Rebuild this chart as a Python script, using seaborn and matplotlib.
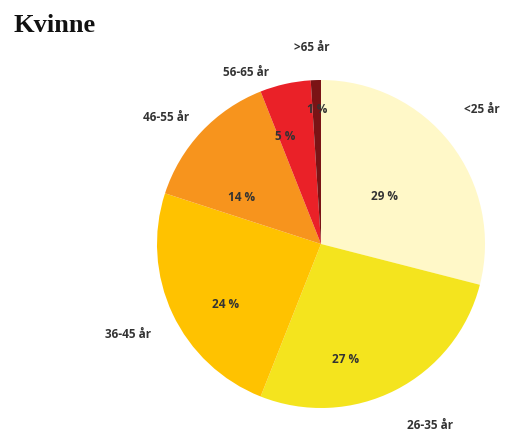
import numpy as np
import matplotlib
matplotlib.use("Agg")
import matplotlib.pyplot as plt
import seaborn as sns

categories = ["<25 år", "26-35 år", "36-45 år", "46-55 år", "56-65 år", ">65 år"]
values = [29, 27, 24, 14, 5, 1]
pct_labels = ["29 %", "27 %", "24 %", "14 %", "5 %", "1 %"]
colors = ["#FFF8C8", "#F4E41E", "#FFC200", "#F7941D", "#EA2128", "#7A1315"]

# label placement (radius fraction, angle offset in degrees)
label_dist = [1.28, 1.29, 1.30, 1.22, 1.14, 1.20]
label_off = [2, 4, 0, 4, 11, 1]
pct_dist = [0.48, 0.72, 0.69, 0.56, 0.69, 0.82]
pct_off = [-1, -15, 7, 13, 6, 0]

sns.set_theme(style="white")
plt.rcParams['font.family'] = ['Open Sans', 'DejaVu Sans']

fig = plt.figure(figsize=(5.08, 4.34), dpi=100)
ax = fig.add_axes([0, 0, 1, 1])
cx, cy, r = 321, 190, 164
wedges, _ = ax.pie(values, colors=sns.color_palette(colors), startangle=90, counterclock=False,
                   center=(cx, cy), radius=r, wedgeprops=dict(linewidth=0))
ax.set_xlim(0, 508)
ax.set_ylim(0, 434)
ax.set_aspect('equal')
ax.axis('off')

for w, lab, pl, ld, lo, pd, po in zip(wedges, categories, pct_labels, label_dist, label_off, pct_dist, pct_off):
    mid = (w.theta1 + w.theta2) / 2
    a1 = np.deg2rad(mid + lo)
    a2 = np.deg2rad(mid + po)
    ax.text(cx + ld * r * np.cos(a1), cy + ld * r * np.sin(a1), lab,
            ha='center', va='center', fontsize=8.5, fontweight='bold', color='#333333')
    ax.text(cx + pd * r * np.cos(a2), cy + pd * r * np.sin(a2), pl,
            ha='center', va='center', fontsize=8.5, fontweight='bold', color='#333333')

fig.text(13 / 508, 1 - 25 / 434, "Kvinne", fontsize=19, fontweight='bold',
         family=['Liberation Serif', 'DejaVu Serif'], ha='left', va='center', color='#111111')

fig.savefig("out.png", dpi=100, facecolor='white')
